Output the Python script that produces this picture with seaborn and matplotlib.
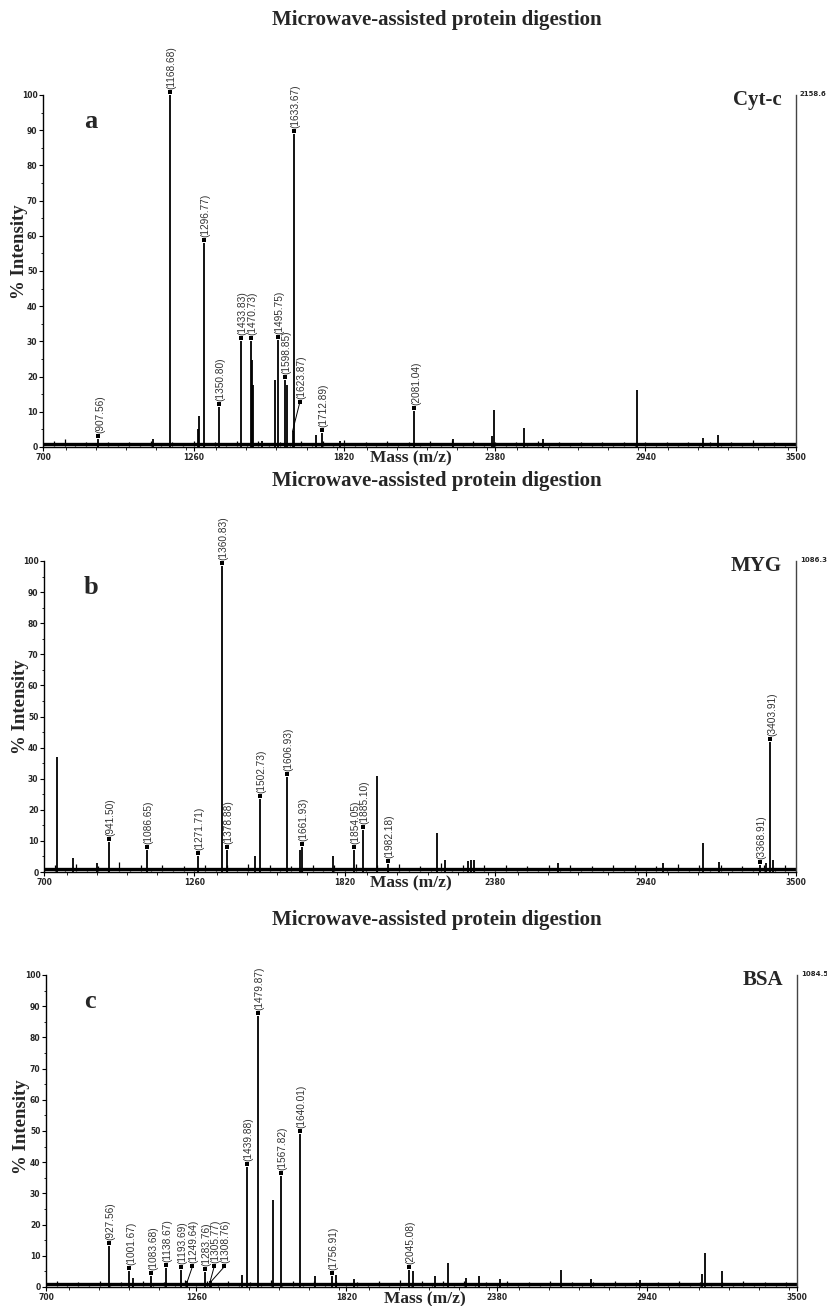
import numpy as np
import pandas as pd
import matplotlib
matplotlib.use("Agg")
import matplotlib.pyplot as plt
from matplotlib.ticker import MultipleLocator, FixedLocator
import seaborn as sns

sns.set_theme(style="ticks")
plt.rcParams['font.family'] = ['DejaVu Sans']
plt.rcParams['axes.linewidth'] = 1.0

SERIF = ['Liberation Serif', 'DejaVu Serif']
SANS = ['Liberation Sans', 'DejaVu Sans']
NARROW = ['Liberation Sans Narrow', 'DejaVu Sans']

# ---------------------------
# data
# ---------------------------
title_text = "Microwave-assisted protein digestion"
xlabel_text = "Mass (m/z)"
ylabel_text = "% Intensity"
x_ticks = [700, 1260, 1820, 2380, 2940, 3500]
y_ticks = [0, 10, 20, 30, 40, 50, 60, 70, 80, 90, 100]
baseline_level = 0.9

# baseline noise samples (shared m/z grid)
noise_mz = [700, 740, 780, 820, 860, 900, 940, 980, 1020, 1060,
            1100, 1140, 1180, 1220, 1260, 1300, 1340, 1380, 1420, 1460,
            1500, 1540, 1580, 1620, 1660, 1700, 1740, 1780, 1820, 1860,
            1900, 1940, 1980, 2020, 2060, 2100, 2140, 2180, 2220, 2260,
            2300, 2340, 2380, 2420, 2460, 2500, 2540, 2580, 2620, 2660,
            2700, 2740, 2780, 2820, 2860, 2900, 2940, 2980, 3020, 3060,
            3100, 3140, 3180, 3220, 3260, 3300, 3340, 3380, 3420, 3460,
            3500]

# a: Cyt-c
a_name, a_top = "Cyt-c", "2158.6"
a_peak_mz = [906, 1110, 1172, 1275, 1280, 1299, 1353, 1435, 1472, 1478,
             1482, 1515, 1563, 1575, 1600, 1608, 1628, 1633, 1714, 1736,
             1804, 2081, 2226, 2368, 2378, 2490, 2560, 2910, 3153, 3209]
a_peak_int = [2.2, 2.3, 100, 5, 8.7, 58, 11.5, 30, 30, 24.7,
              17.5, 1.8, 19, 30.5, 19, 17.5, 4.5, 89, 3.3, 4,
              1.8, 10.2, 2.2, 3, 10.5, 5.4, 2.2, 16.3, 2.5, 3.5]
a_lab_mz = [906, 1172, 1299, 1353, 1435, 1472, 1575, 1600, 1628, 1633, 1736, 2081]
a_lab_int = [2.2, 100, 58, 11.5, 30, 30, 30.5, 19, 4.5, 89, 4, 10.2]
a_lab_txt = ["(907.56)", "(1168.68)", "(1296.77)", "(1350.80)", "(1433.83)",
             "(1470.73)", "(1495.75)", "(1598.85)", "(1623.87)", "(1633.67)",
             "(1712.89)", "(2081.04)"]
a_noise = [0.9, 1.6, 2.4, 0.8, 1.4, 0.7, 1.5, 0.8, 1.3, 0.7,
           1.6, 0.9, 1.4, 0.8, 1.7, 0.9, 1.5, 0.8, 1.6, 1.0,
           1.8, 0.9, 1.5, 1.1, 1.7, 0.9, 1.6, 0.8, 1.9, 0.8,
           1.4, 0.9, 1.6, 0.8, 1.5, 0.9, 1.7, 0.8, 2.0, 0.9,
           1.6, 0.8, 1.5, 0.9, 1.4, 0.8, 1.6, 0.7, 1.3, 0.8,
           1.5, 0.7, 1.4, 0.8, 1.3, 0.7, 1.5, 0.8, 1.4, 0.7,
           1.3, 0.8, 1.4, 0.7, 1.5, 0.8, 2.1, 0.7, 1.3, 0.8,
           1.0]

# b: MYG
b_name, b_top = "MYG", "1086.3"
b_peak_mz = [750, 807, 896, 943, 1082, 1273, 1364, 1380, 1486, 1504,
             1606, 1654, 1659, 1775, 1854, 1887, 1939, 1982, 2162, 2193,
             2280, 2290, 2300, 2614, 3006, 3152, 3213, 3366, 3388, 3405, 3415]
b_peak_int = [36.9, 4.4, 3, 9.8, 7, 5, 98.5, 7, 5, 23.4,
              30.4, 7, 8, 5, 7.2, 13.4, 30.8, 2.6, 12.5, 4,
              3.5, 4, 3.8, 2.8, 2.8, 9.2, 3.2, 2.2, 3, 41.8, 4]
b_lab_mz = [943, 1082, 1273, 1364, 1380, 1504, 1606, 1659, 1854, 1887, 1982, 3366, 3405]
b_lab_int = [9.8, 7, 5, 98.5, 7, 23.4, 30.4, 8, 7.2, 13.4, 2.6, 2.2, 41.8]
b_lab_txt = ["(941.50)", "(1086.65)", "(1271.71)", "(1360.83)", "(1378.88)",
             "(1502.73)", "(1606.93)", "(1661.93)", "(1854.05)", "(1885.10)",
             "(1982.18)", "(3368.91)", "(3403.91)"]
b_noise = [1.2, 2.2, 1.0, 2.6, 1.1, 2.0, 1.3, 3.2, 1.0, 2.1,
           1.2, 2.4, 1.1, 2.0, 1.3, 2.3, 1.0, 2.2, 1.4, 2.5,
           1.1, 2.3, 1.2, 2.0, 1.0, 2.4, 1.3, 2.1, 1.1, 2.6,
           1.2, 2.2, 1.0, 2.5, 1.3, 2.0, 1.4, 3.0, 1.1, 2.2,
           1.0, 2.1, 1.2, 2.4, 1.1, 2.0, 1.3, 2.2, 1.0, 2.3,
           1.2, 2.0, 1.1, 2.4, 1.0, 2.2, 1.3, 2.0, 1.1, 2.5,
           1.2, 2.1, 1.0, 2.3, 1.1, 2.0, 1.3, 2.4, 1.0, 2.2,
           1.1]

# c: BSA
c_name, c_top = "BSA", "1084.5"
c_peak_mz = [936, 1011, 1026, 1093, 1148, 1203, 1227, 1291, 1312, 1316,
             1430, 1448, 1489, 1548, 1576, 1647, 1703, 1765, 1783, 1850,
             2053, 2069, 2149, 2199, 2267, 2313, 2391, 2621, 2733, 2913,
             3146, 3158, 3219]
c_peak_int = [13.2, 5, 3, 3.5, 6, 5.5, 1.8, 4.8, 1.8, 1.8,
              4, 38.6, 87, 28, 35.5, 49, 3.5, 3.5, 3.8, 2.5,
              5.3, 5, 3.5, 7.7, 3, 3.5, 2.5, 5.5, 2.5, 2.2,
              4.3, 10.9, 5]
c_lab_mz = [936, 1011, 1093, 1148, 1203, 1227, 1291, 1312, 1316, 1448,
            1489, 1576, 1647, 1765, 2053]
c_lab_int = [13.2, 5, 3.5, 6, 5.5, 1.8, 4.8, 1.8, 1.8, 38.6,
             87, 35.5, 49, 3.5, 5.3]
c_lab_txt = ["(927.56)", "(1001.67)", "(1083.68)", "(1138.67)", "(1193.69)",
             "(1249.64)", "(1283.76)", "(1305.77)", "(1308.76)", "(1439.88)",
             "(1479.87)", "(1567.82)", "(1640.01)", "(1756.91)", "(2045.08)"]
c_noise = [1.0, 1.8, 0.9, 1.6, 1.1, 2.0, 0.9, 1.7, 1.0, 1.9,
           0.9, 1.6, 1.1, 2.1, 1.0, 1.8, 0.9, 2.0, 1.1, 1.7,
           1.0, 2.2, 0.9, 1.9, 1.1, 1.8, 1.0, 2.0, 0.9, 1.7,
           1.1, 1.9, 1.0, 2.2, 0.9, 1.8, 1.1, 2.0, 1.0, 1.8,
           0.9, 1.7, 1.1, 1.9, 1.0, 1.6, 0.9, 1.8, 1.1, 1.7,
           1.0, 1.6, 0.9, 1.8, 1.1, 1.7, 1.0, 1.6, 0.9, 1.9,
           1.0, 1.7, 1.1, 1.6, 0.9, 1.8, 1.0, 1.7, 1.1, 1.6,
           1.0]

# ---------------------------
# layout (pixels of the 827x1306 canvas)
# ---------------------------
W, H = 827, 1306
layout = {
    'a': dict(left=43, right=796, top=95, bottom=447, title_y=20, xlab=(411, 458),
              ylab=(20, 252), letter=(91, 122)),
    'b': dict(left=44, right=796, top=561, bottom=872, title_y=481, xlab=(411, 883),
              ylab=(21, 707), letter=(91, 587)),
    'c': dict(left=46, right=797, top=975, bottom=1287, title_y=920, xlab=(425, 1299),
              ylab=(22, 1127), letter=(90, 1001)),
}
# labels moved aside from their peak: (shift in px, marker height in %)
leaders = {"(1623.87)": (7, 12.7), "(1249.64)": (5, 6.8),
           "(1305.77)": (4, 6.8), "(1308.76)": (13, 6.8)}

fig = plt.figure(figsize=(W / 100, H / 100), dpi=100)
fig.patch.set_facecolor('white')


def fx(px):
    return px / W


def fy(py):
    return 1 - py / H


def draw_panel(key, letter, name, top_value, peak_mz, peak_int, noise_int,
               lab_mz, lab_int, lab_txt):
    lay = layout[key]
    ax = fig.add_axes([fx(lay['left']), fy(lay['bottom']),
                       (lay['right'] - lay['left']) / W,
                       (lay['bottom'] - lay['top']) / H])
    ax.set_facecolor('white')
    ppu = (lay['bottom'] - lay['top']) / 100.0           # px per % unit
    mpp = 2800.0 / (lay['right'] - lay['left'])          # m/z per px

    # noisy baseline: a thick trace plus small spikes
    noise = pd.DataFrame({'mz': noise_mz, 'int': noise_int})
    sns.lineplot(x=[noise_mz[0], noise_mz[-1]], y=[baseline_level, baseline_level],
                 ax=ax, color='black', lw=2.4, estimator=None)
    ax.vlines(noise['mz'], 0.2, noise['int'], color='black', lw=0.9)

    peaks = pd.DataFrame({'mz': peak_mz, 'int': peak_int})
    ax.vlines(peaks['mz'], 0, peaks['int'], color='black', lw=1.3)

    mk_x, mk_y = [], []
    for mz, h, txt in zip(lab_mz, lab_int, lab_txt):
        if txt in leaders:
            dx, mk = leaders[txt]
            mx, my = mz + dx * mpp, mk
            ax.plot([mz, mx], [h, my - 1.0 / ppu], color='black', lw=0.7)
        else:
            mx, my = mz, h + 3.0 / ppu
        mk_x.append(mx)
        mk_y.append(my)
        ax.text(mx + 1.5 * mpp, my + 3.0 / ppu, txt, rotation=90, ha='center',
                va='bottom', fontsize=7.3, family=SANS, color='#333333',
                clip_on=False)
    sns.scatterplot(x=mk_x, y=mk_y, ax=ax, marker='s', s=6, color='black',
                    linewidth=0, clip_on=False, legend=False)

    ax.set_xlim(700, 3500)
    ax.set_ylim(0, 100)
    ax.xaxis.set_major_locator(FixedLocator(x_ticks))
    ax.xaxis.set_minor_locator(MultipleLocator(112))
    ax.yaxis.set_major_locator(FixedLocator(y_ticks))
    ax.yaxis.set_minor_locator(MultipleLocator(5))
    ax.set_xlabel('')
    ax.set_ylabel('')
    ax.tick_params(axis='both', which='major', length=3, width=0.8,
                   labelsize=5.5, pad=1, color='black')
    ax.tick_params(axis='both', which='minor', length=1.8, width=0.6, color='black')
    for lbl in ax.get_xticklabels() + ax.get_yticklabels():
        lbl.set_fontfamily(NARROW)
        lbl.set_fontweight('bold')
    ax.grid(False)
    sns.despine(ax=ax, top=True, right=False)
    for side in ['left', 'bottom', 'right']:
        ax.spines[side].set_color('black')
        ax.spines[side].set_linewidth(1.0)
    ax.spines['right'].set_color('#444444')

    # texts around the panel
    fig.text(fx(437), fy(lay['title_y']), title_text, ha='center', va='center',
             fontsize=15, fontweight='bold', family=SERIF)
    fig.text(fx(lay['xlab'][0]), fy(lay['xlab'][1]), xlabel_text, ha='center',
             va='center', fontsize=12.5, fontweight='bold', family=SERIF)
    fig.text(fx(lay['ylab'][0]), fy(lay['ylab'][1]), ylabel_text, ha='center',
             va='center', rotation=90, fontsize=13.5, fontweight='bold', family=SERIF)
    fig.text(fx(lay['letter'][0]), fy(lay['letter'][1]), letter, ha='center',
             va='center', fontsize=19, fontweight='bold', family=SERIF)
    fig.text(fx(lay['right'] - 14), fy(lay['top'] + 5), name, ha='right',
             va='center', fontsize=15, fontweight='bold', family=SERIF)
    fig.text(fx(lay['right'] + 4), fy(lay['top'] - 1), top_value, ha='left',
             va='center', fontsize=5, fontweight='bold', family=NARROW)
    return ax


draw_panel('a', 'a', a_name, a_top, a_peak_mz, a_peak_int, a_noise,
           a_lab_mz, a_lab_int, a_lab_txt)
draw_panel('b', 'b', b_name, b_top, b_peak_mz, b_peak_int, b_noise,
           b_lab_mz, b_lab_int, b_lab_txt)
draw_panel('c', 'c', c_name, c_top, c_peak_mz, c_peak_int, c_noise,
           c_lab_mz, c_lab_int, c_lab_txt)

fig.savefig('out.png', dpi=100, facecolor='white')
